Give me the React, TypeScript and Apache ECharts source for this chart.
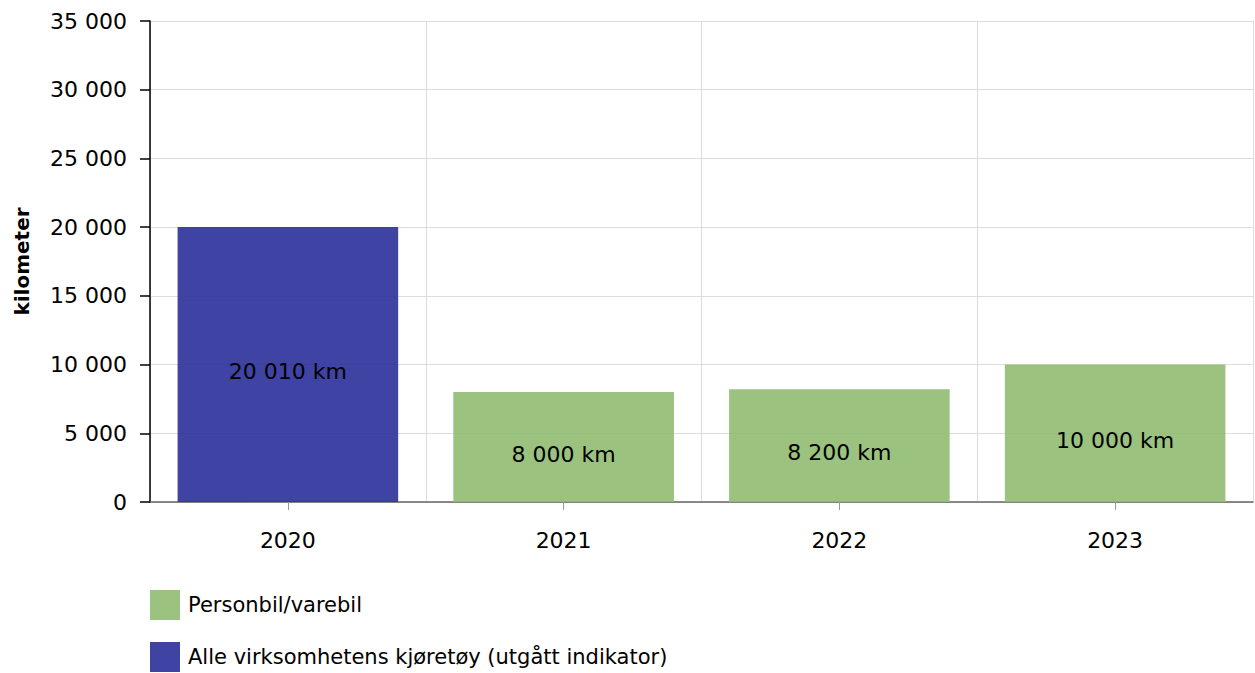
import React, { useEffect, useRef } from "react";
import * as echarts from "echarts";

const categories = ["2020", "2021", "2022", "2023"];
const allVehicles = [20010, "-", "-", "-"];
const carVan = ["-", 8000, 8200, 10000];
const seriesNames = ["Personbil/varebil", "Alle virksomhetens kjøretøy (utgått indikator)"];
const yAxisName = "kilometer";

const fmt = (v: number) => String(Math.round(v)).replace(/\B(?=(\d{3})+(?!\d))/g, " ");

export default function App() {
  const ref = useRef<HTMLDivElement>(null);
  useEffect(() => {
    const chart = echarts.init(ref.current!, undefined, { renderer: "svg" });
    const font = "'DejaVu Sans', Verdana, sans-serif";
    const label = {
      show: true,
      position: "inside" as const,
      offset: [0, 7],
      color: "#000",
      fontSize: 22,
      fontFamily: font,
      formatter: (p: any) => fmt(p.value) + " km",
    };
    chart.setOption({
      animation: false,
      grid: { left: 150, top: 21, right: 2, bottom: 171, containLabel: false, outerBoundsMode: "none" },
      legend: {
        orient: "vertical",
        left: 150,
        top: 590,
        padding: 0,
        itemWidth: 30,
        itemHeight: 30,
        itemGap: 22,
        icon: "rect",
        data: seriesNames,
        textStyle: { fontSize: 21, fontFamily: font, color: "#000", padding: [0, 0, 0, 3] },
      },
      xAxis: {
        type: "category",
        data: categories,
        axisLine: { lineStyle: { color: "#666", width: 1.5 } },
        axisTick: { show: true, alignWithLabel: true, length: 8, lineStyle: { color: "#999" } },
        axisLabel: { fontSize: 22, fontFamily: font, color: "#000", margin: 27 },
        splitLine: { show: true, lineStyle: { color: "#ddd" } },
      },
      yAxis: {
        type: "value",
        min: 0,
        max: 35000,
        interval: 5000,
        name: yAxisName,
        nameLocation: "middle",
        nameGap: 118,
        nameTextStyle: { fontSize: 20, fontWeight: "bold", fontFamily: font, color: "#000" },
        axisLine: { show: true, lineStyle: { color: "#000", width: 1.5 } },
        axisTick: { show: true, length: 10, lineStyle: { color: "#000", width: 1.5 } },
        axisLabel: { fontSize: 22, fontFamily: font, color: "#000", margin: 23, formatter: (v: number) => fmt(v) },
        splitLine: { show: true, lineStyle: { color: "#ddd" } },
      },
      series: [
        {
          name: seriesNames[0],
          type: "bar",
          stack: "total",
          barWidth: "80%",
          data: carVan,
          itemStyle: { color: "rgba(144,189,113,0.9)" },
          label,
        },
        {
          name: seriesNames[1],
          type: "bar",
          stack: "total",
          barWidth: "80%",
          data: allVehicles,
          itemStyle: { color: "rgba(42,48,154,0.9)" },
          label,
        },
      ],
    });
    return () => chart.dispose();
  }, []);
  return <div ref={ref} style={{ width: 1255, height: 673, position: "absolute", left: 0, top: 0 }} />;
}
